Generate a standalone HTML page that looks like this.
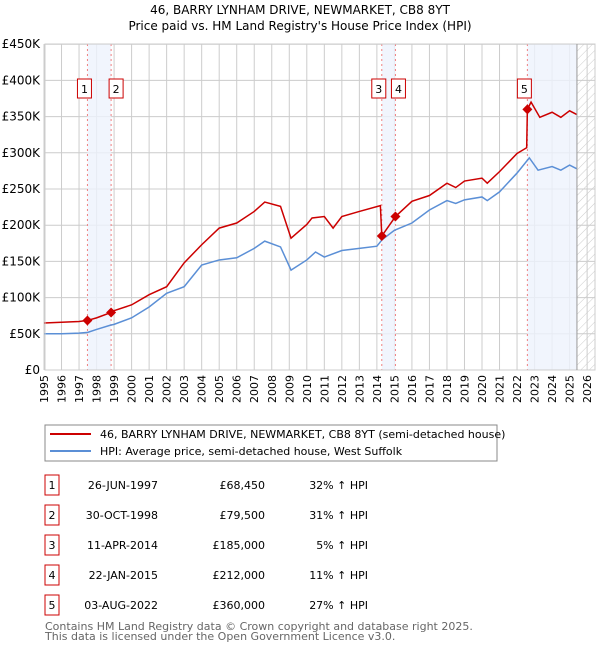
<!DOCTYPE html>
<html><head><meta charset="utf-8"><style>
body{margin:0;background:#fff;font-family:"Liberation Sans","DejaVu Sans",sans-serif;}
svg text{font-family:"DejaVu Sans","Liberation Sans",sans-serif;}
</style></head><body>
<svg id="chart" width="600" height="650" viewBox="0 0 600 650">
<defs><pattern id="hatch" width="6" height="6" patternUnits="userSpaceOnUse" patternTransform="rotate(45)"><line x1="0" y1="0" x2="0" y2="6" stroke="#ccc" stroke-width="1"/></pattern></defs>
<text x="300" y="14" text-anchor="middle" font-size="12">46, BARRY LYNHAM DRIVE, NEWMARKET, CB8 8YT</text>
<text x="300" y="30" text-anchor="middle" font-size="12">Price paid vs. HM Land Registry's House Price Index (HPI)</text>
<g id="grid"></g><g id="shade"></g><g id="lines"></g><g id="marks"></g><g id="axes"></g>
<rect x="45" y="425" width="452" height="36" fill="#fff" stroke="#888"/>
<line x1="50" y1="434" x2="91" y2="434" stroke="#cc0000" stroke-width="2"/>
<text x="100" y="438" font-size="11">46, BARRY LYNHAM DRIVE, NEWMARKET, CB8 8YT (semi-detached house)</text>
<line x1="50" y1="451" x2="91" y2="451" stroke="#5b8fd6" stroke-width="2"/>
<text x="100" y="455" font-size="11">HPI: Average price, semi-detached house, West Suffolk</text>
<g id="table"></g>
<text x="45" y="630" font-size="11" fill="#666">Contains HM Land Registry data © Crown copyright and database right 2025.</text>
<text x="45" y="640" font-size="11" fill="#666">This data is licensed under the Open Government Licence v3.0.</text>
</svg>
<script>
const hpiYears=[1995,1996,1997,1997.5,1998,1998.8,1999,2000,2001,2002,2003,2003.5,2004,2005,2006,2007,2007.6,2008.5,2009.1,2010,2010.5,2011,2012,2013,2014,2014.3,2015,2016,2017,2018,2018.5,2019,2020,2020.3,2021,2022,2022.7,2023.2,2024,2024.5,2025,2025.4];
const hpiValues=[50000,50000,51000,52000,56000,62000,63000,72000,87000,106000,115000,130000,145000,152000,155000,168000,178000,170000,138000,152000,163000,156000,165000,168000,171000,180000,193000,203000,221000,234000,230000,235000,239000,234000,246000,272000,293000,276000,281000,276000,283000,278000];
const priceYears=[1995,1996,1997,1997.48,1998,1998.83,1999,2000,2001,2002,2003,2004,2005,2006,2007,2007.6,2008.5,2009.1,2010,2010.3,2011,2011.5,2012,2013,2014.2,2014.28,2015.06,2016,2017,2018,2018.5,2019,2020,2020.3,2021,2022,2022.55,2022.59,2022.8,2023.3,2024,2024.5,2025,2025.4];
const priceValues=[65000,66000,67000,68450,72000,79500,82000,90000,104000,115000,148000,173000,196000,203000,219000,232000,226000,182000,201000,210000,212000,196000,212000,219000,227000,185000,212000,233000,241000,258000,252000,261000,265000,258000,274000,299000,307000,360000,370000,349000,356000,349000,358000,353000];
const saleYears=[1997.48,1998.83,2014.28,2015.06,2022.59];
const salePrices=[68450,79500,185000,212000,360000];
const saleDates=["26-JUN-1997","30-OCT-1998","11-APR-2014","22-JAN-2015","03-AUG-2022"];
const salePriceLabels=["£68,450","£79,500","£185,000","£212,000","£360,000"];
const salePct=["32% ↑ HPI","31% ↑ HPI","5% ↑ HPI","11% ↑ HPI","27% ↑ HPI"];
const yTicks=[0,50000,100000,150000,200000,250000,300000,350000,400000,450000];
const yTickLabels=["£0","£50K","£100K","£150K","£200K","£250K","£300K","£350K","£400K","£450K"];
const xTicks=[1995,1996,1997,1998,1999,2000,2001,2002,2003,2004,2005,2006,2007,2008,2009,2010,2011,2012,2013,2014,2015,2016,2017,2018,2019,2020,2021,2022,2023,2024,2025,2026];

const NS="http://www.w3.org/2000/svg";
const X=y=>44+(y-1995)*17.52;
const Y=v=>370-v/50000*36.2;
const L=45,R=595,T=44,B=370,dataEnd=2025.42;
function mk(parent,tag,attrs){const e=document.createElementNS(NS,tag);for(const k in attrs)e.setAttribute(k,attrs[k]);document.getElementById(parent).appendChild(e);return e;}

let e=mk('grid','rect',{x:L,y:T,width:R-L,height:B-T,fill:'#fff'});


e=mk('grid','rect',{x:X(dataEnd),y:T,width:R-X(dataEnd),height:B-T,fill:'url(#hatch)'});


yTicks.forEach((v,i)=>{
 e=mk('grid','line',{x1:L,x2:R,y1:Y(v),y2:Y(v),stroke:'#ccc'});
 
 
 e=mk('axes','text',{x:40,y:Y(v)+4,'text-anchor':'end','font-size':12});
 e.textContent=yTickLabels[i];
 
 
});
xTicks.forEach(yr=>{
 e=mk('grid','line',{x1:X(yr),x2:X(yr),y1:T,y2:B,stroke:'#ccc'});
 
 
 const tx=X(yr)+4,ty=375;
 e=mk('axes','text',{x:tx,y:ty,'text-anchor':'end','font-size':11,transform:`rotate(-90 ${tx} ${ty})`});
 e.textContent=yr;
 
 
});
e=mk('axes','rect',{x:L,y:T,width:R-L,height:B-T,fill:'none',stroke:'#ccc'});


e=mk('axes','line',{x1:X(dataEnd),x2:X(dataEnd),y1:T,y2:B,stroke:'#999'});


[[0,1],[2,3],[4,-1]].forEach(p=>{
 const x1=X(saleYears[p[0]]),x2=p[1]<0?X(dataEnd):X(saleYears[p[1]]);
 e=mk('shade','rect',{x:x1,y:T,width:x2-x1,height:B-T,fill:'#eef3fc',opacity:0.8});
 
 
});
saleYears.forEach((yr,i)=>{
 e=mk('shade','line',{x1:X(yr),x2:X(yr),y1:T,y2:B,stroke:'#f08080','stroke-dasharray':'2,3'});
 
 
});
e=mk('lines','polyline',{points:hpiYears.map((y,i)=>X(y)+','+Y(hpiValues[i])).join(' '),fill:'none',stroke:'#5b8fd6','stroke-width':1.5});


e=mk('lines','polyline',{points:priceYears.map((y,i)=>X(y)+','+Y(priceValues[i])).join(' '),fill:'none',stroke:'#cc0000','stroke-width':1.5});


saleYears.forEach((yr,i)=>{
 const cx=X(yr),cy=Y(salePrices[i]);
 e=mk('marks','path',{d:`M${cx},${cy-5}L${cx+5},${cy}L${cx},${cy+5}L${cx-5},${cy}Z`,fill:'#cc0000'});
 
 
 const bx=(i==0?cx-10:i==1?cx-2:i==2?cx-10:i==3?cx-4:cx-10);
 e=mk('marks','rect',{x:bx,y:79,width:14,height:19,fill:'#fff',stroke:'#cc0000'});
 
 
 e=mk('marks','text',{x:bx+7,y:93,'text-anchor':'middle','font-size':11});
 e.textContent=i+1;
 
 
 const ry=485+i*30;
 e=mk('table','rect',{x:45,y:ry-10,width:14,height:20,fill:'#fff',stroke:'#cc0000'});
 
 
 e=mk('table','text',{x:52,y:ry+4,'text-anchor':'middle','font-size':11});
 e.textContent=i+1;
 
 
 e=mk('table','text',{x:158,y:ry+4,'text-anchor':'end','font-size':11});
 e.textContent=saleDates[i];
 
 
 e=mk('table','text',{x:265,y:ry+4,'text-anchor':'end','font-size':11});
 e.textContent=salePriceLabels[i];
 
 
 e=mk('table','text',{x:368,y:ry+4,'text-anchor':'end','font-size':11});
 e.textContent=salePct[i];
 
 
});
</script>
</body></html>
